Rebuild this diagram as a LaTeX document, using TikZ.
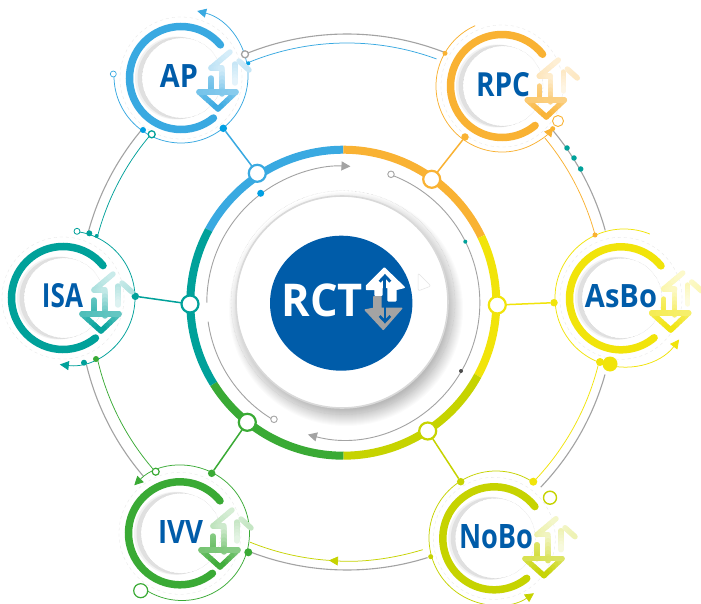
\documentclass[tikz,border=0pt]{standalone}
\usepackage{fontspec}
\setmainfont{Open Sans}
\usetikzlibrary{arrows.meta,calc}
\definecolor{cblue}{HTML}{39A9E1}
\definecolor{corange}{HTML}{F9B233}
\definecolor{cyellow}{HTML}{F1E40A}
\definecolor{clime}{HTML}{C6D300}
\definecolor{cgreen}{HTML}{3AAA35}
\definecolor{cteal}{HTML}{00A19A}
\definecolor{cnavy}{HTML}{005CA9}
\definecolor{cgray}{HTML}{A3A3A3}
\definecolor{cdot}{HTML}{009FE3}
\newcommand\arcat[6][]{\draw[#1] ([shift={(#5:#4pt)}]#2,#3) arc[start angle=#5,end angle=#6,radius=#4pt];}
\newcommand\gseg[7]{%
  \foreach \i in {1,...,6}{%
    \pgfmathsetmacro\ta{(\i-1)/6}\pgfmathsetmacro\tb{\i/6}%
    \pgfmathsetmacro\pc{#6+(#7-#6)*(\i-0.5)/6}%
    \draw[draw=#5!\pc!white] ($(#1,#2)!\ta!(#3,#4)$) -- ($(#1,#2)!\tb!(#3,#4)$);}}
\newcommand\arrowicon[3]{%
  \begin{scope}[shift={(#1,#2)},line width=5.4pt,line cap=round,line join=round]
    \gseg{5}{14}{5}{33}{#3}{30}{12}
    \gseg{9}{11}{19}{20}{#3}{22}{30}
    \gseg{-8}{20}{-8}{44}{#3}{20}{62}
    \gseg{-19}{18}{0}{2}{#3}{34}{20}
    \gseg{-19}{18}{-8}{18}{#3}{34}{24}
    \gseg{-19}{28}{-19}{42}{#3}{60}{75}
    \gseg{-31}{42}{-12}{59}{#3}{70}{100}
    \gseg{6}{42}{-12}{59}{#3}{60}{100}
    \gseg{-31}{42}{6}{42}{#3}{70}{60}
  \end{scope}}
\newcommand\satdisk[2]{%
  \fill[gray!10] (#1-4.5,#2) circle[radius=41.5pt];
  \fill[gray!24] (#1-2.5,#2) circle[radius=41pt];
  \fill[white] (#1+1,#2) circle[radius=40pt];
  \draw[gray!45,line width=.35pt,densely dotted] (#1+1,#2) circle[radius=40pt];
  \draw[gray!20,line width=.3pt,dashed] (#1,#2) circle[radius=61pt];}
\newcommand\lab[6][cnavy]{\node[text=#1,inner sep=0pt] (#2) at (#3) {\resizebox{#4pt}{#5pt}{\bfseries #6}};}
\tikzset{
  thick arc/.style={line width=7.5pt,line cap=round,#1},
  thin ring/.style={line width=.75pt,draw=#1},
  seg/.style={line width=8pt,draw=#1},
  outer/.style={line width=1.1pt,draw=cgray},
  inner/.style={line width=.9pt,draw=cgray},
  jn/.style={circle,draw=#1,line width=2.2pt,fill=white,minimum size=17pt,inner sep=0pt,outer sep=0pt},
  dotn/.style={circle,fill=#1,inner sep=0pt,outer sep=0pt},
  openn/.style={circle,draw=#1,fill=white,inner sep=0pt,outer sep=0pt},
  spoke/.style={line width=1.5pt,draw=#1},
  tip/.style={-{Triangle[length=9pt,width=9pt,fill=#1]}}
}
\begin{document}
\begin{tikzpicture}[x=1pt,y=-1pt]
\useasboundingbox (0,0) rectangle (701,604);
\clip (0,0) rectangle (701,604);
\fill[white] (0,0) rectangle (701,604);
% outer gray arcs
\arcat[outer]{347}{302}{268}{112.4}{68.6}
\arcat[outer]{347}{302}{268}{40.2}{15.5}
\arcat[outer]{347}{302}{268}{-15.7}{-43.7}
\arcat[outer]{347}{302}{268}{-72.5}{-111}
\arcat[outer]{347}{302}{268}{220.6}{193.5}
\arcat[outer]{347}{302}{268}{165}{139.9}
% outer coloured arcs
\arcat[thin ring=cblue]{347}{302}{259}{112.5}{69.8}
\arcat[thin ring=corange]{347}{302}{257}{39.6}{15.1}
\arcat[thin ring=cyellow]{347}{302}{259}{-14}{-44}
\arcat[thin ring=clime,tip=clime]{347}{302}{259}{-73}{-94}
\arcat[thin ring=clime]{347}{302}{259}{-93}{-112}
\arcat[thin ring=cgreen]{347}{302}{256}{221.6}{192.8}
\arcat[thin ring=cteal]{347}{302}{258}{165.2}{139.4}
% central shadow and disk
\foreach \i in {0,...,17}{\fill[black,opacity=.016] (346,309) circle[radius={(117-\i)*1pt}];}
\draw[gray!30,line width=1.6pt,fill=white] (342,302) circle[radius=106pt];
\draw[gray!45,line width=.35pt,densely dotted] (343,302.7) circle[radius=112pt];
\draw[gray!22,line width=.5pt,fill=white,rounded corners=2pt] (418,273) -- (431,286) -- (418,291) -- cycle;
% inner gray arcs
\arcat[inner,tip=cgray]{343.3}{302.7}{136.5}{180}{87}
\arcat[inner,tip=cgray]{343.3}{302.7}{136.5}{69}{-105}
\arcat[inner]{343.3}{302.7}{136.5}{188}{239.5}
\node[openn=cgray,line width=.9pt,minimum size=6.5pt] (g1) at (391,174.3) {};
\node[openn=cgray,line width=.9pt,minimum size=6.5pt] (g2) at (274,419.3) {};
\node[dotn=cdot,minimum size=7pt] (d0) at (260.7,193.3) {};
\node[dotn=cteal,minimum size=4pt] (d01) at (465.3,241.7) {};
\node[dotn=black!70,minimum size=4pt] (d02) at (461,371) {};
% main ring
\arcat[seg=cblue]{343.3}{302.7}{153}{151.6}{90}
\arcat[seg=corange]{343.3}{302.7}{153}{90}{25.6}
\arcat[seg=cyellow]{343.3}{302.7}{153}{25.6}{-28.5}
\arcat[seg=clime]{343.3}{302.7}{153}{-28.5}{-90}
\arcat[seg=cgreen]{343.3}{302.7}{153}{-90}{-148}
\arcat[seg=cteal]{343.3}{302.7}{153}{-148}{-208.4}
% satellite disks
\satdisk{181}{78}
\satdisk{502}{86}
\satdisk{621}{298.3}
\satdisk{494.3}{538.3}
\satdisk{180}{533.3}
\satdisk{63}{298}
% satellite thin rings
\arcat[thin ring=cblue,tip=cblue]{181}{76}{67}{176}{436}
\arcat[thin ring=corange,tip=corange]{502}{86}{66}{114}{321}
\arcat[thin ring=cyellow,tip=cyellow]{624}{298}{69}{68}{323}
\arcat[thin ring=clime,tip=clime]{496}{538}{67}{56.5}{304.5}
\arcat[thin ring=cgreen,tip=cgreen]{182}{533}{67.5}{-125.6}{135}
\arcat[thin ring=cteal,tip=cteal]{68}{298}{67}{82}{-97}
% satellite thick arcs
\arcat[thick arc,draw=cblue]{181}{78}{51.5}{40}{309}
\arcat[thick arc,draw=corange]{502}{86}{51.5}{38}{310}
\arcat[thick arc,draw=cyellow]{621}{298.3}{51.5}{39}{310}
\arcat[thick arc,draw=clime]{494.3}{538.3}{51.5}{38}{309}
\arcat[thick arc,draw=cgreen]{180}{533.3}{51.5}{39}{309}
\arcat[thick arc,draw=cteal]{63}{298}{51.5}{39}{309}
% junctions
\node[jn=cblue] (jap) at (257.3,173.3) {};
\node[jn=corange] (jrpc) at (431.7,179.3) {};
\node[jn=cyellow] (jas) at (497.3,305) {};
\node[jn=clime] (jno) at (427.7,431) {};
\node[jn=cgreen] (jiv) at (247.3,422.3) {};
\node[jn=cteal] (jis) at (190,304) {};
% spoke dots
\node[dotn=cdot,minimum size=7.5pt] (dap) at (223.3,128.3) {};
\node[dotn=corange,minimum size=7.5pt] (drpc) at (465,137) {};
\node[dotn=cyellow,minimum size=7.5pt] (das) at (554,302.7) {};
\node[dotn=clime,minimum size=7.5pt] (dno) at (460.7,481.7) {};
\node[dotn=cgreen,minimum size=7.5pt] (div) at (211.7,473.3) {};
\node[dotn=cteal,minimum size=7.5pt] (dis) at (135.3,296.3) {};
\draw[spoke=cblue] (jap) -- (dap);
\draw[spoke=corange] (jrpc) -- (drpc);
\draw[spoke=cyellow] (jas) -- (das);
\draw[spoke=clime] (jno) -- (dno);
\draw[spoke=cgreen] (jiv) -- (div);
\draw[spoke=cteal] (jis) -- (dis);
% small markers
\node[openn=cblue,line width=.7pt,minimum size=6pt] (m1) at (113.3,74) {};
\node[dotn=cdot,minimum size=6pt] (m2) at (143,130) {};
\node[openn=cteal,line width=1.3pt,minimum size=7pt] (m3) at (151.7,134.3) {};
\node[openn=cgray,line width=1.3pt,minimum size=7pt] (m4) at (245,54.3) {};
\node[dotn=cdot,minimum size=4pt] (m5) at (248.3,63.3) {};
\node[dotn=corange,minimum size=5pt] (m6) at (445,53.3) {};
\node[openn=corange,line width=.9pt,minimum size=11pt] (m7) at (558,121) {};
\node[dotn=corange,minimum size=5pt] (m8) at (552.7,128.7) {};
\node[dotn=cteal,minimum size=5.5pt] (m9) at (567,148) {};
\node[dotn=cteal,minimum size=5.5pt] (m10) at (574,158) {};
\node[dotn=cteal,minimum size=5.5pt] (m11) at (580.7,169) {};
\node[dotn=corange,minimum size=5pt] (m12) at (595,235) {};
\node[dotn=cyellow,minimum size=15pt] (m13) at (610,364) {};
\node[dotn=cyellow,minimum size=8pt] (m14) at (600,362) {};
\node[dotn=cyellow,minimum size=8pt] (m15) at (533.3,481.7) {};
\node[openn=clime,line width=1.4pt,minimum size=13pt] (m16) at (550,497.7) {};
\node[dotn=clime,minimum size=5pt] (m17) at (430.7,556.7) {};
\node[dotn=cgreen,minimum size=8pt] (m18) at (248.3,552.3) {};
\node[openn=cgreen,line width=1.2pt,minimum size=14pt] (m19) at (140.7,590.7) {};
\node[openn=cgreen,line width=1.2pt,minimum size=7pt] (m20) at (155.7,471.7) {};
\node[dotn=cgreen,minimum size=6pt] (m21) at (96,359) {};
\node[dotn=cteal,minimum size=6pt] (m22) at (84,362.7) {};
\node[openn=cteal,line width=.8pt,minimum size=6pt] (m23) at (77,231.3) {};
\node[dotn=cteal,minimum size=6pt] (m24) at (89.3,233.3) {};
\node[dotn=cteal,minimum size=4pt] (m25) at (96.7,236) {};
% labels
\lab{lap}{179,76.5}{38}{23}{AP}
\lab{lrpc}{503,85}{54}{24}{RPC}
\lab{las}{621,296.5}{72}{23}{AsBo}
\lab{lno}{496,537}{74}{24}{NoBo}
\lab{liv}{180.5,531.5}{45}{23}{IVV}
\lab{lis}{62.5,296}{41}{24}{ISA}
% icons
\arrowicon{230}{50}{cblue}
\arrowicon{558.3}{58}{corange}
\arrowicon{682.7}{271}{cyellow}
\arrowicon{556}{516.7}{clime}
\arrowicon{232}{508}{cgreen}
\arrowicon{113}{272}{cteal}
% RCT centre
\fill[cnavy] (341.2,303.2) ellipse[x radius=71.2pt,y radius=67.5pt];
\node[text=white,inner sep=0pt] (lrct) at (322.3,300.3) {\resizebox{81.3pt}{32.7pt}{\bfseries RCT}};
\begin{scope}[shift={(250,200)},x=.3333pt,y=-.3333pt]
  \fill[draw=cgray,line width=1.5pt,line join=round,fill=cgray] (372,290) -- (393,290) -- (393,325) -- (455,325) -- (400,388) -- (346,330) -- (372,325) -- cycle;
  \fill[draw=white,line width=1.8pt,line join=round,fill=white] (403,205) -- (462,262) -- (437,268) -- (437,302) -- (415,302) -- (415,262) -- (395,262) -- (395,285) -- (376,285) -- (376,268) -- (350,268) -- (350,258) -- cycle;
  \draw[cnavy,line width=2.8pt,line join=miter] (389,245) -- (405,228) -- (421,245);
  \draw[cnavy,line width=3pt] (405,232) -- (405,305);
  \draw[cnavy,line width=2.6pt] (405,300) -- (405,362);
  \draw[cnavy,line width=2.6pt] (389,348) -- (405,365) -- (421,348);
\end{scope}
\end{tikzpicture}
\end{document}
